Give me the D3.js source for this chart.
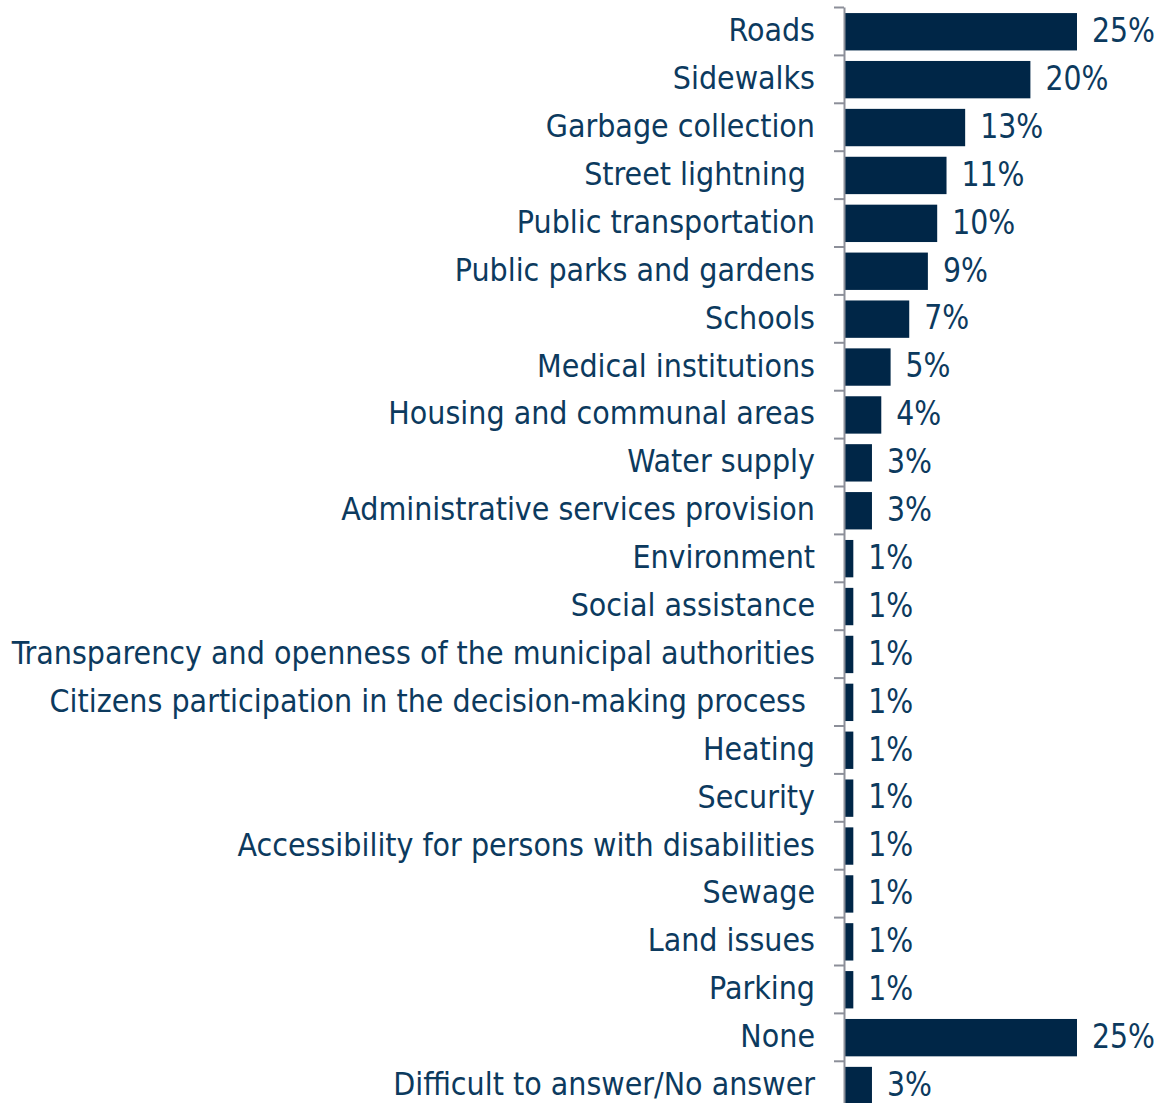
<!DOCTYPE html>
<html>
<head>
<meta charset="utf-8">
<script src="https://cdn.jsdelivr.net/npm/d3@7/dist/d3.min.js"></script>
<style>
  html, body { margin: 0; padding: 0; background: #ffffff; }
  svg { display: block; }
  text { font-family: "DejaVu Sans Condensed", "DejaVu Sans", sans-serif; }
</style>
</head>
<body>
<svg id="chart" width="1161" height="1103"></svg>
<script>
// Answers in survey order
const categories = [
  "Roads",
  "Sidewalks",
  "Garbage collection",
  "Street lightning ",
  "Public transportation",
  "Public parks and gardens",
  "Schools",
  "Medical institutions",
  "Housing and communal areas",
  "Water supply",
  "Administrative services provision",
  "Environment",
  "Social assistance",
  "Transparency and openness of the municipal authorities",
  "Citizens participation in the decision-making process ",
  "Heating",
  "Security",
  "Accessibility for persons with disabilities",
  "Sewage",
  "Land issues",
  "Parking",
  "None",
  "Difficult to answer/No answer"
];

// Share of respondents, %
const values = [25, 20, 13, 11, 10, 9, 7, 5, 4, 3, 3, 1, 1, 1, 1, 1, 1, 1, 1, 1, 1, 25, 3];

const barColor = "#002647";
const textColor = "#0c3a5e";
const axisColor = "#8c8f99";

const svg = d3.select("#chart");

const axisX = 844;
const topY = 7;
const step = 47.9;
const n = categories.length;

const x = d3.scaleLinear().domain([0, 25]).range([axisX, axisX + 233]);

const y = d3.scaleBand()
  .domain(categories)
  .range([topY + 0.8, topY + 0.8 + n * step])
  .paddingInner(0.22)
  .paddingOuter(0.11);

// Bars
svg.append("g")
  .selectAll("rect")
  .data(categories)
  .join("rect")
  .attr("x", x(0))
  .attr("y", d => y(d))
  .attr("width", (d, i) => x(values[i]) - x(0))
  .attr("height", y.bandwidth())
  .attr("fill", barColor);

// Category axis: line with ticks at band boundaries
const boundary = d3.scaleLinear().domain([0, n]).range([topY, topY + n * step]);
const tickAxis = svg.append("g")
  .attr("transform", `translate(${axisX},0)`)
  .call(d3.axisLeft(boundary)
    .tickValues(d3.range(n + 1))
    .tickFormat("")
    .tickSize(10)
    .tickSizeOuter(0));
tickAxis.selectAll("line, path")
  .attr("stroke", axisColor)
  .attr("stroke-width", 2);

// Category labels
const labelAxis = svg.append("g")
  .attr("transform", `translate(${axisX},0)`)
  .call(d3.axisLeft(y).tickSize(0).tickPadding(29));
labelAxis.select(".domain").remove();
labelAxis.selectAll("text")
  .attr("fill", textColor)
  .attr("font-size", 31.8)
  .attr("font-family", "\"DejaVu Sans Condensed\", \"DejaVu Sans\", sans-serif")
  .style("white-space", "pre")
  .attr("dy", "0.3em");

// Value labels
svg.append("g")
  .selectAll("text")
  .data(categories)
  .join("text")
  .attr("transform", (d, i) =>
    `translate(${x(values[i]) + 15},${y(d) + y.bandwidth() / 2 - 2}) scale(1,1.08)`)
  .attr("dy", "0.36em")
  .attr("fill", textColor)
  .attr("font-size", 31.5)
  .text((d, i) => values[i] + "%");
</script>
</body>
</html>
